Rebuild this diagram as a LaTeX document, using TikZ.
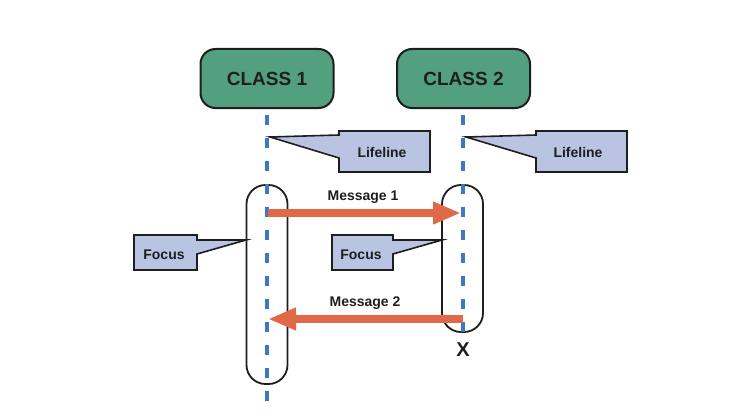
\documentclass[tikz,border=0pt]{standalone}
\usepackage{fontspec}
\setmainfont{Liberation Sans}
\usetikzlibrary{arrows.meta}
\definecolor{clsgreen}{HTML}{52A07F}
\definecolor{callfill}{HTML}{B9C4E2}
\definecolor{msgorange}{HTML}{E06A48}
\definecolor{lineblue}{HTML}{3F78BE}
\definecolor{ink}{HTML}{1E1E1E}
\tikzset{
  classbox/.style={draw=ink, line width=2pt, fill=clsgreen, rounded corners=15pt,
    minimum width=133pt, minimum height=59pt, inner sep=0pt,
    font=\bfseries\fontsize{19}{21}\selectfont, text=ink},
  lifeline/.style={draw=lineblue, line width=3.5pt, dash pattern=on 10pt off 13pt},
  actbox/.style={draw=ink, line width=1.8pt, fill=white, rounded corners=19pt,
    minimum width=41pt, inner sep=0pt},
  callout/.style={draw=ink, line width=1.6pt, fill=callfill, line join=miter},
  lbl/.style={font=\bfseries\fontsize{14}{16}\selectfont, text=ink, inner sep=0pt},
  msg/.style={draw=msgorange, line width=8pt,
    -{Triangle[length=28pt, width=21pt]}, color=msgorange},
}
\begin{document}
\begin{tikzpicture}[x=1pt, y=-1pt]
\useasboundingbox (0,0) rectangle (744,420);
% activations
\node[actbox, minimum height=199pt] (act1) at (267,284.5) {};
\node[actbox, minimum height=147pt] (act2) at (462.5,258.5) {};
% classes
\node[classbox] (c1) at (267,78.5) {CLASS 1};
\node[classbox] (c2) at (463.5,78.5) {CLASS 2};
% lifelines
\coordinate (l1top) at (267,115);
\coordinate (l1bot) at (267,408);
\coordinate (l2top) at (463,115);
\coordinate (l2bot) at (463,342);
\draw[lifeline] (l1top) -- (l1bot);
\draw[lifeline] (l2top) -- (l2bot);
% lifeline callouts
\draw[callout] (339,131) -- (430,131) -- (430,172) -- (339,172) -- (339,158) -- (270,137) -- (339,135) -- cycle;
\node[lbl] (ll1) at (382,152) {Lifeline};
\draw[callout] (536,131) -- (627,131) -- (627,172) -- (536,172) -- (536,158) -- (466,137) -- (536,135) -- cycle;
\node[lbl] (ll2) at (578,152) {Lifeline};
% focus callouts
\draw[callout] (134,235) -- (197,235) -- (197,240) -- (246,240) -- (197,254) -- (197,270) -- (134,270) -- cycle;
\node[lbl] (f1) at (164,255) {Focus};
\draw[callout] (332,235) -- (393,235) -- (393,240) -- (442,240) -- (393,254) -- (393,270) -- (332,270) -- cycle;
\node[lbl] (f2) at (361,255) {Focus};
% messages
\coordinate (m1s) at (268,213);
\coordinate (m1e) at (461,213);
\coordinate (m2s) at (463,319);
\coordinate (m2e) at (268,319);
\draw[msg] (m1s) -- (m1e);
\draw[msg] (m2s) -- (m2e);
\node[lbl] (m1) at (363,197) {Message 1};
\node[lbl] (m2) at (365,303) {Message 2};
% destruction
\node[font=\bfseries\fontsize{20}{20}\selectfont, text=ink, inner sep=0pt] (xend) at (463,350) {X};
\end{tikzpicture}
\end{document}
